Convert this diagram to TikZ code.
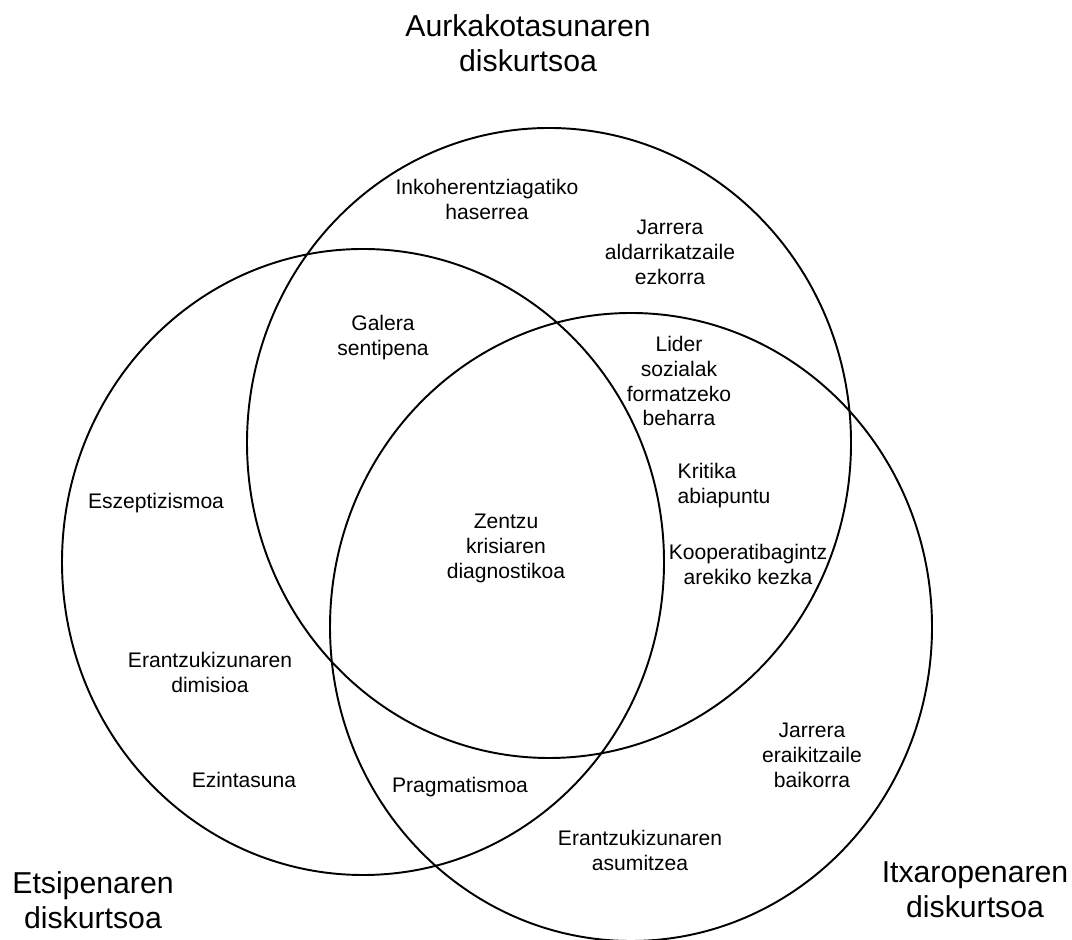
\documentclass[tikz,border=0pt]{standalone}
\usepackage{fontspec}
\setmainfont{Liberation Sans}
\usepackage{tikz}
\usetikzlibrary{positioning}

\begin{document}
\begin{tikzpicture}[lbl/.style={align=center,inner sep=0pt,font=\fontsize{6}{7.1}\selectfont},
  big/.style={align=center,inner sep=0pt,font=\fontsize{8.6}{9.9}\selectfont},
  venn/.style={draw=black,line width=0.55pt}]
\useasboundingbox (0,0) rectangle (10.72,9.39);
\draw[venn] (5.49,4.96) ellipse (3.02 and 3.15);
\draw[venn] (3.63,3.77) ellipse (3.01 and 3.13);
\draw[venn] (6.31,3.12) ellipse (3.01 and 3.14);
\node[big] (aurk) at (5.28,8.955) {Aurkakotasunaren\\diskurtsoa};
\node[big] (etsi) at (0.93,0.385) {Etsipenaren\\diskurtsoa};
\node[big] (itxa) at (9.75,0.49) {Itxaropenaren\\diskurtsoa};
\node[lbl] (inko) at (4.87,7.395) {Inkoherentziagatiko\\haserrea};
\node[lbl] (jarA) at (6.70,6.87) {Jarrera\\aldarrikatzaile\\ezkorra};
\node[lbl] (gale) at (3.83,6.01) {Galera\\sentipena};
\node[lbl] (lide) at (6.79,5.58) {Lider\\sozialak\\formatzeko\\beharra};
\node[lbl,align=left,anchor=west] (krit) at (6.77,4.535) {Kritika\\abiapuntu};
\node[lbl] (eszp) at (1.56,4.36) {Eszeptizismoa};
\node[lbl] (zent) at (5.06,3.91) {Zentzu\\krisiaren\\diagnostikoa};
\node[lbl] (koop) at (7.48,3.745) {Kooperatibagintz\\arekiko kezka};
\node[lbl] (dimi) at (2.10,2.665) {Erantzukizunaren\\dimisioa};
\node[lbl] (ezin) at (2.44,1.59) {Ezintasuna};
\node[lbl] (prag) at (4.60,1.52) {Pragmatismoa};
\node[lbl] (jarB) at (8.12,1.84) {Jarrera\\eraikitzaile\\baikorra};
\node[lbl] (asum) at (6.40,0.89) {Erantzukizunaren\\asumitzea};
\end{tikzpicture}
\end{document}
